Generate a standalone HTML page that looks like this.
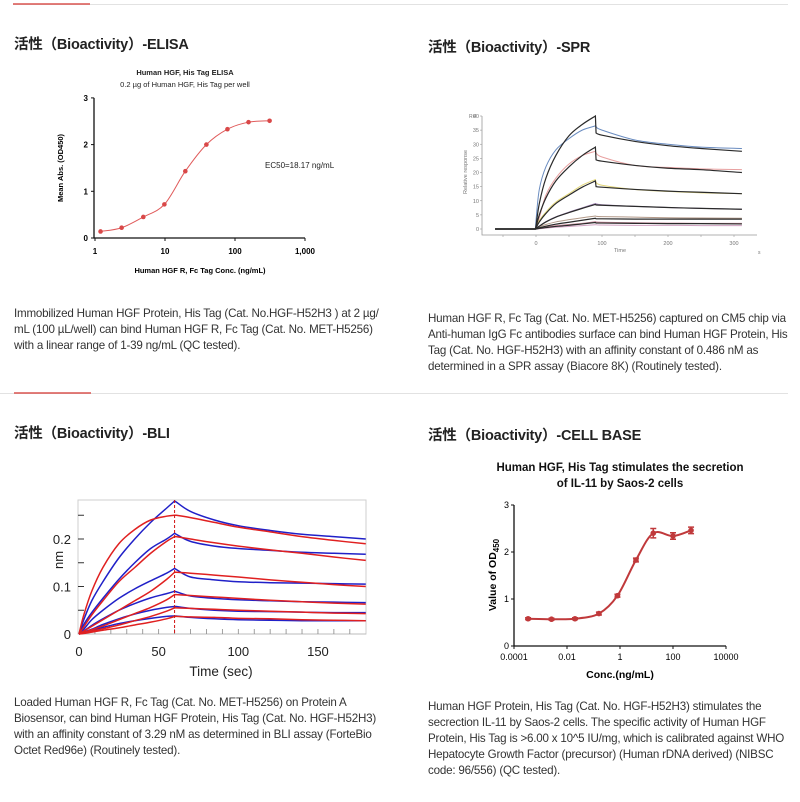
<!DOCTYPE html>
<html><head><meta charset="utf-8">
<style>
body{margin:0;background:#fff;width:800px;height:802px;position:relative;overflow:hidden;font-family:"Liberation Sans","Noto Sans CJK SC",sans-serif;}
.h{position:absolute;font-weight:bold;font-size:14.5px;color:#222;white-space:nowrap;letter-spacing:-0.2px;}
.p{position:absolute;font-size:11.6px;line-height:16px;color:#333;white-space:nowrap;letter-spacing:-0.2px;}
.ln{position:absolute;height:1px;background:#e2e2e2;}
.rd{position:absolute;height:2px;background:#d9534f;opacity:.75}
svg{position:absolute;left:0;top:0}
text{font-family:"Liberation Sans",sans-serif}
</style></head><body>
<div class="ln" style="left:13px;top:4px;width:775px"></div>
<div class="rd" style="left:13px;top:3px;width:77px"></div>
<div class="ln" style="left:0;top:393px;width:788px"></div>
<div class="rd" style="left:14px;top:392px;width:77px"></div>

<div class="h" style="left:14px;top:33px">活性（Bioactivity）-ELISA</div>
<div class="h" style="left:428px;top:36px">活性（Bioactivity）-SPR</div>
<div class="h" style="left:14px;top:422px">活性（Bioactivity）-BLI</div>
<div class="h" style="left:428px;top:424px">活性（Bioactivity）-CELL BASE</div>

<div class="p" style="left:14px;top:306px">Immobilized Human HGF Protein, His Tag (Cat. No.HGF-H52H3 ) at 2 µg/<br>mL (100 µL/well) can bind Human HGF R, Fc Tag (Cat. No. MET-H5256)<br>with a linear range of 1-39 ng/mL (QC tested).</div>
<div class="p" style="left:428px;top:311px">Human HGF R, Fc Tag (Cat. No. MET-H5256) captured on CM5 chip via<br>Anti-human IgG Fc antibodies surface can bind Human HGF Protein, His<br>Tag (Cat. No. HGF-H52H3) with an affinity constant of 0.486 nM as<br>determined in a SPR assay (Biacore 8K) (Routinely tested).</div>
<div class="p" style="left:14px;top:695px">Loaded Human HGF R, Fc Tag (Cat. No. MET-H5256) on Protein A<br>Biosensor, can bind Human HGF Protein, His Tag (Cat. No. HGF-H52H3)<br>with an affinity constant of 3.29 nM as determined in BLI assay (ForteBio<br>Octet Red96e) (Routinely tested).</div>
<div class="p" style="left:428px;top:699px">Human HGF Protein, His Tag (Cat. No. HGF-H52H3) stimulates the<br>secrection IL-11 by Saos-2 cells. The specific activity of Human HGF<br>Protein, His Tag is &gt;6.00 x 10^5 IU/mg, which is calibrated against WHO<br>Hepatocyte Growth Factor (precursor) (Human rDNA derived) (NIBSC<br>code: 96/556) (QC tested).</div>

<svg id="s" width="800" height="802"></svg>
<script>
// ELISA data
const elisaConc=[1.2,2.4,4.9,9.8,19.5,39,78,156,312];
const elisaOD=[0.14,0.22,0.45,0.72,1.43,2.0,2.33,2.48,2.51];
const elisaXTicks=[1,10,100,1000];
const elisaXTickLabels=["1","10","100","1,000"];
const elisaYTicks=[0,1,2,3];
// SPR data
const sprTimes=[-62,-1,0,5,15,30,50,70,90,91,100,150,200,250,312];
const sprFit1=[0,0,1,9,18,26,33,37,40,34,33.2,31,29.5,28.5,27.5];
const sprFit2=[0,0,0.5,5,11,17,22,26,29,24.5,24,22.5,21.5,21,20];
const sprFit3=[0,0,0.3,2.5,5.5,9,12,14.8,17,15,14.8,14,13.4,13,12.5];
const sprFit4=[0,0,0.1,1,2.5,4.2,5.8,7.3,8.7,8.5,8.4,8,7.6,7.3,7];
const sprFit5=[0,0,0,0.4,1,1.7,2.4,3.1,3.8,3.6,3.6,3.5,3.5,3.5,3.5];
const sprFit6=[0,0,0,0.2,0.5,0.9,1.3,1.8,2.3,2.1,2.1,2,1.9,1.9,1.8];
const sprData1=[0,0,3,14,22,28,32,35,36.5,36.2,35,31.5,30,29,28.5];
const sprData2=[0,0,1,4,12,18,23,26,27.5,27,25.5,22.5,21.8,21.3,21];
const sprData3=[0,0,0.5,3,6,9.5,12.5,15.5,17.5,16.5,15.5,14,13.3,12.8,12.5];
const sprData4=[0,0,0.2,1,2.6,4.3,6,7.5,9,8.9,8.6,8,7.6,7.3,7];
const sprData5=[0,0,0.2,0.8,1.6,2.5,3.3,4,4.6,4.5,4.4,4.2,4,3.9,3.8];
const sprData6=[0,0,0.1,0.4,0.8,1.2,1.6,2,2.6,2.5,2.4,2.2,2.1,2,2];
const sprData7=[0,0,0,0.1,0.3,0.6,0.9,1.2,1.5,1.5,1.4,1.3,1.3,1.2,1.2];
const sprYTicks=[0,5,10,15,20,25,30,35,40];
const sprXTicks=[0,100,200,300];
// BLI data
const bliTimes=[0,3,8,15,25,35,45,55,60,61,70,85,100,120,140,160,180];
const bliFit1=[0,0.04,0.09,0.14,0.19,0.22,0.24,0.248,0.25,0.25,0.245,0.235,0.225,0.215,0.205,0.197,0.19];
const bliFit2=[0,0.015,0.04,0.07,0.11,0.14,0.17,0.195,0.205,0.205,0.2,0.192,0.185,0.177,0.17,0.162,0.155];
const bliFit3=[0,0.006,0.016,0.03,0.05,0.07,0.09,0.115,0.13,0.13,0.128,0.124,0.12,0.114,0.109,0.104,0.1];
const bliFit4=[0,0.003,0.009,0.017,0.03,0.043,0.056,0.072,0.083,0.083,0.081,0.078,0.075,0.071,0.068,0.065,0.063];
const bliFit5=[0,0.002,0.006,0.011,0.019,0.028,0.037,0.048,0.055,0.055,0.054,0.052,0.05,0.048,0.046,0.044,0.043];
const bliFit6=[0,0.001,0.004,0.008,0.013,0.019,0.025,0.032,0.037,0.037,0.036,0.035,0.033,0.032,0.03,0.029,0.028];
const bliObs1=[0,0.03,0.07,0.11,0.16,0.2,0.235,0.265,0.28,0.278,0.258,0.24,0.228,0.218,0.21,0.205,0.2];
const bliObs2=[0,0.02,0.045,0.075,0.115,0.15,0.18,0.2,0.212,0.21,0.195,0.185,0.18,0.176,0.172,0.17,0.168];
const bliObs3=[0,0.01,0.03,0.05,0.075,0.095,0.112,0.128,0.138,0.136,0.12,0.114,0.11,0.108,0.107,0.106,0.105];
const bliObs4=[0,0.006,0.018,0.032,0.05,0.064,0.076,0.085,0.09,0.089,0.08,0.075,0.072,0.07,0.068,0.067,0.066];
const bliObs5=[0,0.004,0.01,0.02,0.032,0.042,0.05,0.056,0.058,0.058,0.054,0.05,0.048,0.047,0.046,0.045,0.045];
const bliObs6=[0,0.002,0.007,0.014,0.022,0.028,0.033,0.037,0.038,0.038,0.035,0.032,0.03,0.029,0.028,0.028,0.028];
const bliYTicks=[0,0.1,0.2];
const bliYTickLabels=["0","0.1","0.2"];
const bliXTicks=[0,50,100,150];
// Cell base data
const cellConc=[0.00034,0.0026,0.02,0.16,0.8,4,18,100,480];
const cellOD=[0.58,0.57,0.58,0.69,1.07,1.83,2.4,2.34,2.46];
const cellErr=[0.02,0.02,0.02,0.03,0.03,0.04,0.1,0.07,0.07];
const cellXTicks=[0.0001,0.01,1,100,10000];
const cellXTickLabels=["0.0001","0.01","1","100","10000"];
const cellYTicks=[0,1,2,3];

const S=document.getElementById('s');const NS='http://www.w3.org/2000/svg';
function mk(tag,at,txt){const e=document.createElementNS(NS,tag);for(const k in at)e.setAttribute(k,at[k]);if(txt!==undefined)e.textContent=txt;S.appendChild(e);return e;}
function smoothSeg(p,move){let d=(move?'M':'L')+`${p[0][0]},${p[0][1]}`;for(let i=0;i<p.length-1;i++){const a=p[i-1]||p[i],b=p[i],c=p[i+1],e=p[i+2]||c;d+=` C${b[0]+(c[0]-a[0])/6},${b[1]+(c[1]-a[1])/6} ${c[0]-(e[0]-b[0])/6},${c[1]-(e[1]-b[1])/6} ${c[0]},${c[1]}`;}return d;}
function smooth(p){return smoothSeg(p,true);}
// split into segments where consecutive x positions nearly coincide (injection stop)
function smoothSplit(p,gap){let segs=[[p[0]]];for(let i=1;i<p.length;i++){if(p[i][0]-p[i-1][0]<gap)segs.push([p[i]]);else segs[segs.length-1].push(p[i]);}
 return segs.map((s,k)=>s.length>1?smoothSeg(s,k===0):'L'+s[0][0]+','+s[0][1]).join(' ');}
function poly(p){return 'M'+p.map(q=>q[0].toFixed(1)+','+q[1].toFixed(1)).join(' L');}

// ---- ELISA ----
const ex=c=>95+Math.log10(c)*70, ey=v=>238-v*46.7;
let e;
e=mk('text',{x:185,y:75,'font-size':7.5,'font-weight':'bold','text-anchor':'middle',fill:'#222'},'Human HGF, His Tag ELISA');

e=mk('text',{x:185,y:87,'font-size':7.5,'text-anchor':'middle',fill:'#222'},'0.2 µg of Human HGF, His Tag per well');

e=mk('path',{d:`M94,${ey(3)} V238 H${ex(1000)}`,stroke:'#111','stroke-width':1.3,fill:'none'});

elisaYTicks.forEach(v=>{mk('line',{x1:91,x2:94,y1:ey(v),y2:ey(v),stroke:'#111'});
 e=mk('text',{x:88,y:ey(v)+3,'font-size':8,'font-weight':'bold','text-anchor':'end'},v);
 });
elisaXTicks.forEach((v,i)=>{mk('line',{x1:ex(v),x2:ex(v),y1:238,y2:241,stroke:'#111'});
 e=mk('text',{x:ex(v),y:254,'font-size':8,'font-weight':'bold','text-anchor':'middle'},elisaXTickLabels[i]);
 });
e=mk('text',{x:200,y:273,'font-size':7.5,'font-weight':'bold','text-anchor':'middle'},'Human HGF R, Fc Tag Conc. (ng/mL)');

e=mk('text',{x:0,y:0,'font-size':7.5,'font-weight':'bold','text-anchor':'middle',transform:'translate(63,168) rotate(-90)'},'Mean Abs. (OD450)');

e=mk('text',{x:265,y:168,'font-size':8,fill:'#222'},'EC50=18.17 ng/mL');

e=mk('path',{d:smooth(elisaConc.map((c,i)=>[ex(c),ey(elisaOD[i])])),stroke:'#e05a5a','stroke-width':1,fill:'none'});

elisaConc.forEach((c,i)=>{e=mk('circle',{cx:ex(c),cy:ey(elisaOD[i]),r:2.3,fill:'#d94848'});
 });

// ---- SPR ----
const sx=t=>536+t*0.66, sy=v=>229-v*2.825;
e=mk('path',{d:`M482,${sy(40)} V235 H757`,stroke:'#999','stroke-width':0.8,fill:'none'});

sprYTicks.forEach(v=>{mk('line',{x1:480,x2:482,y1:sy(v),y2:sy(v),stroke:'#999','stroke-width':0.6});
 e=mk('text',{x:479,y:sy(v)+2,'font-size':5.5,fill:'#777','text-anchor':'end'},v);
 });
for(let t=-50;t<=300;t+=50)mk('line',{x1:sx(t),x2:sx(t),y1:235,y2:237,stroke:'#999','stroke-width':0.6});
sprXTicks.forEach(v=>{e=mk('text',{x:sx(v),y:245,'font-size':5.5,fill:'#777','text-anchor':'middle'},v);
 });
e=mk('text',{x:469,y:118,'font-size':5,fill:'#777'},'RU');
e=mk('text',{x:620,y:252,'font-size':5.5,fill:'#777','text-anchor':'middle'},'Time');
e=mk('text',{x:758,y:254,'font-size':5,fill:'#777'},'s');
e=mk('text',{x:0,y:0,'font-size':5.5,fill:'#777','text-anchor':'middle',transform:'translate(467,172) rotate(-90)'},'Relative response');

[[sprData1,'#6a8cc0'],[sprData2,'#e8a0a0'],[sprData3,'#e3d77a'],[sprData4,'#9b7fb0'],[sprData5,'#b39a8a'],[sprData6,'#c98a9a'],[sprData7,'#d0a0c0']].forEach(([d,c])=>{
 e=mk('path',{d:smoothSplit(sprTimes.map((t,i)=>[sx(t),sy(d[i])]),1.5),stroke:c,'stroke-width':1,fill:'none'});
 });
[sprFit1,sprFit2,sprFit3,sprFit4,sprFit5,sprFit6].forEach(d=>{
 e=mk('path',{d:smoothSplit(sprTimes.map((t,i)=>[sx(t),sy(d[i])]),1.5),stroke:'#2a2a2a','stroke-width':1.2,fill:'none'});
 });

// ---- BLI ----
const bx=t=>79+t*1.593, by=v=>634-v*475;
e=mk('rect',{x:78,y:500,width:288,height:134,fill:'none',stroke:'#cfcfcf','stroke-width':1});

mk('line',{x1:78,x2:366,y1:634,y2:634,stroke:'#bbb'});
[0.05,0.1,0.15,0.2,0.25].forEach(v=>mk('line',{x1:78,x2:84,y1:by(v),y2:by(v),stroke:'#333','stroke-width':1}));
for(let t=10;t<180;t+=10)mk('line',{x1:bx(t),x2:bx(t),y1:634,y2:629,stroke:'#888','stroke-width':0.8});
bliYTicks.forEach((v,i)=>{e=mk('text',{x:71,y:by(v)+5,'font-size':13,fill:'#222','text-anchor':'end'},bliYTickLabels[i]);
 });
bliXTicks.forEach(v=>{e=mk('text',{x:bx(v),y:656,'font-size':13,fill:'#222','text-anchor':'middle'},v);
 });
e=mk('text',{x:221,y:676,'font-size':13.5,fill:'#222','text-anchor':'middle'},'Time (sec)');
e=mk('text',{x:0,y:0,'font-size':13,fill:'#222','text-anchor':'middle',transform:'translate(63,560) rotate(-90)'},'nm');
[bliObs1,bliObs2,bliObs3,bliObs4,bliObs5,bliObs6].forEach(d=>{
 e=mk('path',{d:smoothSplit(bliTimes.map((t,i)=>[bx(t),by(d[i])]),2),stroke:'#2020c8','stroke-width':1.5,fill:'none'});
 });
[bliFit1,bliFit2,bliFit3,bliFit4,bliFit5,bliFit6].forEach(d=>{
 e=mk('path',{d:smoothSplit(bliTimes.map((t,i)=>[bx(t),by(d[i])]),2),stroke:'#e02020','stroke-width':1.5,fill:'none'});
 });
e=mk('line',{x1:bx(60),x2:bx(60),y1:500,y2:634,stroke:'#d01010','stroke-width':1,'stroke-dasharray':'3,2'});


// ---- Cell base ----
const cx=c=>620+Math.log10(c)*26.5, cy=v=>646-v*47;
e=mk('text',{x:620,y:471,'font-size':11.5,'font-weight':'bold','text-anchor':'middle',fill:'#111'},'Human HGF, His Tag stimulates the secretion');

e=mk('text',{x:620,y:487,'font-size':11.5,'font-weight':'bold','text-anchor':'middle',fill:'#111'},'of IL-11 by Saos-2 cells');

e=mk('path',{d:`M514,${cy(3)} V646 H${cx(10000)}`,stroke:'#111','stroke-width':1.3,fill:'none'});

cellYTicks.forEach(v=>{mk('line',{x1:511,x2:514,y1:cy(v),y2:cy(v),stroke:'#111'});
 e=mk('text',{x:509,y:cy(v)+3,'font-size':9,'text-anchor':'end'},v);
 });
cellXTicks.forEach((v,i)=>{mk('line',{x1:cx(v),x2:cx(v),y1:646,y2:649,stroke:'#111'});
 e=mk('text',{x:cx(v),y:660,'font-size':9,'text-anchor':'middle'},cellXTickLabels[i]);
 });
e=mk('text',{x:620,y:678,'font-size':10.5,'font-weight':'bold','text-anchor':'middle'},'Conc.(ng/mL)');
e=mk('text',{x:0,y:0,'font-size':10.5,'font-weight':'bold','text-anchor':'middle',transform:'translate(496,575) rotate(-90)'});
e.innerHTML='Value of OD<tspan font-size="8" dy="3">450</tspan>';

e=mk('path',{d:smooth(cellConc.map((c,i)=>[cx(c),cy(cellOD[i])])),stroke:'#c0393b','stroke-width':2,fill:'none'});

cellConc.forEach((c,i)=>{const X=cx(c),Y=cy(cellOD[i]),h=cellErr[i]*47;
 mk('path',{d:`M${X},${Y-h} V${Y+h} M${X-3},${Y-h} H${X+3} M${X-3},${Y+h} H${X+3}`,stroke:'#c0393b','stroke-width':1.5});
 e=mk('circle',{cx:X,cy:Y,r:2.8,fill:'#c0393b'});
 });
</script>
</body></html>
